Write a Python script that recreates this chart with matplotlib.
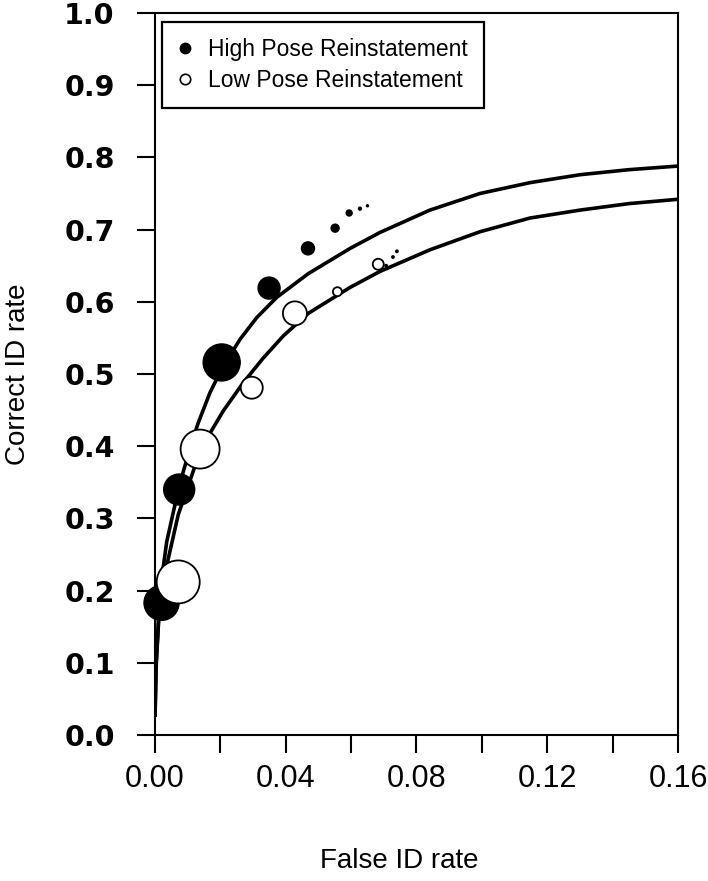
import matplotlib
matplotlib.use("Agg")
import matplotlib.pyplot as plt
from matplotlib.lines import Line2D
from matplotlib.ticker import MultipleLocator, FormatStrFormatter

# ---- data ----
high_x = [0.002, 0.0074, 0.0204, 0.0349, 0.0468, 0.0551, 0.0594, 0.0627, 0.0650]
high_y = [0.183, 0.340, 0.516, 0.619, 0.674, 0.702, 0.723, 0.729, 0.733]
high_d = [35, 31, 37, 22, 13, 8, 6, 3, 2]          # relative bubble diameters

low_x = [0.0071, 0.0138, 0.0296, 0.0428, 0.0558, 0.0683, 0.0707, 0.0728, 0.0740]
low_y = [0.212, 0.396, 0.481, 0.584, 0.614, 0.652, 0.650, 0.662, 0.670]
low_d = [43, 39, 22, 24, 9, 11, 2, 2, 2]

# fitted ROC curves
high_curve_x = [0.0, 0.0003, 0.0012, 0.002, 0.0036, 0.0074, 0.0112, 0.0132, 0.0168,
                0.0204, 0.026, 0.0311, 0.0372, 0.0469, 0.0597, 0.0688, 0.0841,
                0.0994, 0.1147, 0.130, 0.145, 0.160]
high_curve_y = [0.025, 0.094, 0.170, 0.215, 0.268, 0.345, 0.405, 0.432, 0.474,
                0.507, 0.548, 0.578, 0.606, 0.639, 0.674, 0.696, 0.727,
                0.750, 0.765, 0.776, 0.783, 0.788]
low_curve_x = [0.0, 0.0004, 0.0012, 0.0025, 0.0041, 0.0071, 0.0122, 0.0163, 0.0209,
               0.027, 0.0331, 0.0393, 0.0469, 0.0597, 0.0688, 0.0841, 0.0994,
               0.1147, 0.130, 0.145, 0.160]
low_curve_y = [0.025, 0.100, 0.165, 0.210, 0.245, 0.305, 0.372, 0.414, 0.449,
               0.488, 0.522, 0.553, 0.584, 0.620, 0.642, 0.672, 0.697,
               0.716, 0.727, 0.736, 0.742]

legend_labels = ["High Pose Reinstatement", "Low Pose Reinstatement"]
x_label = "False ID rate"
y_label = "Correct ID rate"

# ---- figure ----
W, H = 708, 881
fig = plt.figure(figsize=(W / 100, H / 100), dpi=100)
ax = fig.add_axes([155 / W, 1 - 735 / H, (678 - 155) / W, (735 - 13) / H])

ax.plot(high_curve_x, high_curve_y, color="black", lw=2.6, solid_capstyle="butt",
        solid_joinstyle="round", zorder=2)
ax.plot(low_curve_x, low_curve_y, color="black", lw=2.6, solid_capstyle="butt",
        solid_joinstyle="round", zorder=2)

px2pt = 0.72
ax.scatter(high_x, high_y, s=[(d * px2pt) ** 2 for d in high_d], facecolor="black",
           edgecolor="black", linewidths=1.0, zorder=3, clip_on=False)
ax.scatter(low_x, low_y, s=[(d * px2pt) ** 2 for d in low_d], facecolor="white",
           edgecolor="black", linewidths=1.3, zorder=4, clip_on=False)

ax.set_xlim(0, 0.16)
ax.set_ylim(0, 1.0)
ax.xaxis.set_major_locator(MultipleLocator(0.04))
ax.xaxis.set_minor_locator(MultipleLocator(0.02))
ax.yaxis.set_major_locator(MultipleLocator(0.1))
ax.xaxis.set_major_formatter(FormatStrFormatter("%.2f"))
ax.yaxis.set_major_formatter(FormatStrFormatter("%.1f"))

for s in ax.spines.values():
    s.set_linewidth(1.5)
ax.tick_params(axis="x", which="both", direction="out", length=13, width=1.5, pad=8)
ax.tick_params(axis="y", which="major", direction="out", length=13, width=1.5, pad=16)
for lab in ax.get_xticklabels():
    lab.set_fontfamily("Liberation Sans")
    lab.set_fontsize(22)
for lab in ax.get_yticklabels():
    lab.set_fontfamily("DejaVu Sans")
    lab.set_fontweight("bold")
    lab.set_fontsize(20.5)

ax.set_xlabel(x_label, fontsize=20, fontfamily="Liberation Sans")
ax.set_ylabel(y_label, fontsize=20, fontfamily="Liberation Sans")
ax.xaxis.set_label_coords((399 - 155) / (678 - 155), -(848 - 735) / (735 - 13))
ax.yaxis.set_label_coords(-(155 - 31) / (678 - 155), 0.5)

handles = [
    Line2D([], [], marker="o", ls="none", markerfacecolor="black", markeredgecolor="black",
           markersize=7.5),
    Line2D([], [], marker="o", ls="none", markerfacecolor="white", markeredgecolor="black",
           markeredgewidth=1.2, markersize=7.5),
]
leg = ax.legend(handles, legend_labels, loc="upper left",
                bbox_to_anchor=((162 - 155) / 523, (735 - 22) / 722),
                prop={"family": "Liberation Sans", "size": 16.5},
                frameon=True, fancybox=False, edgecolor="black", framealpha=1,
                handlelength=0.6, handletextpad=0.7, borderpad=0.7, labelspacing=0.35,
                borderaxespad=0)
leg.get_frame().set_linewidth(1.6)

fig.savefig("out.png", dpi=100)
